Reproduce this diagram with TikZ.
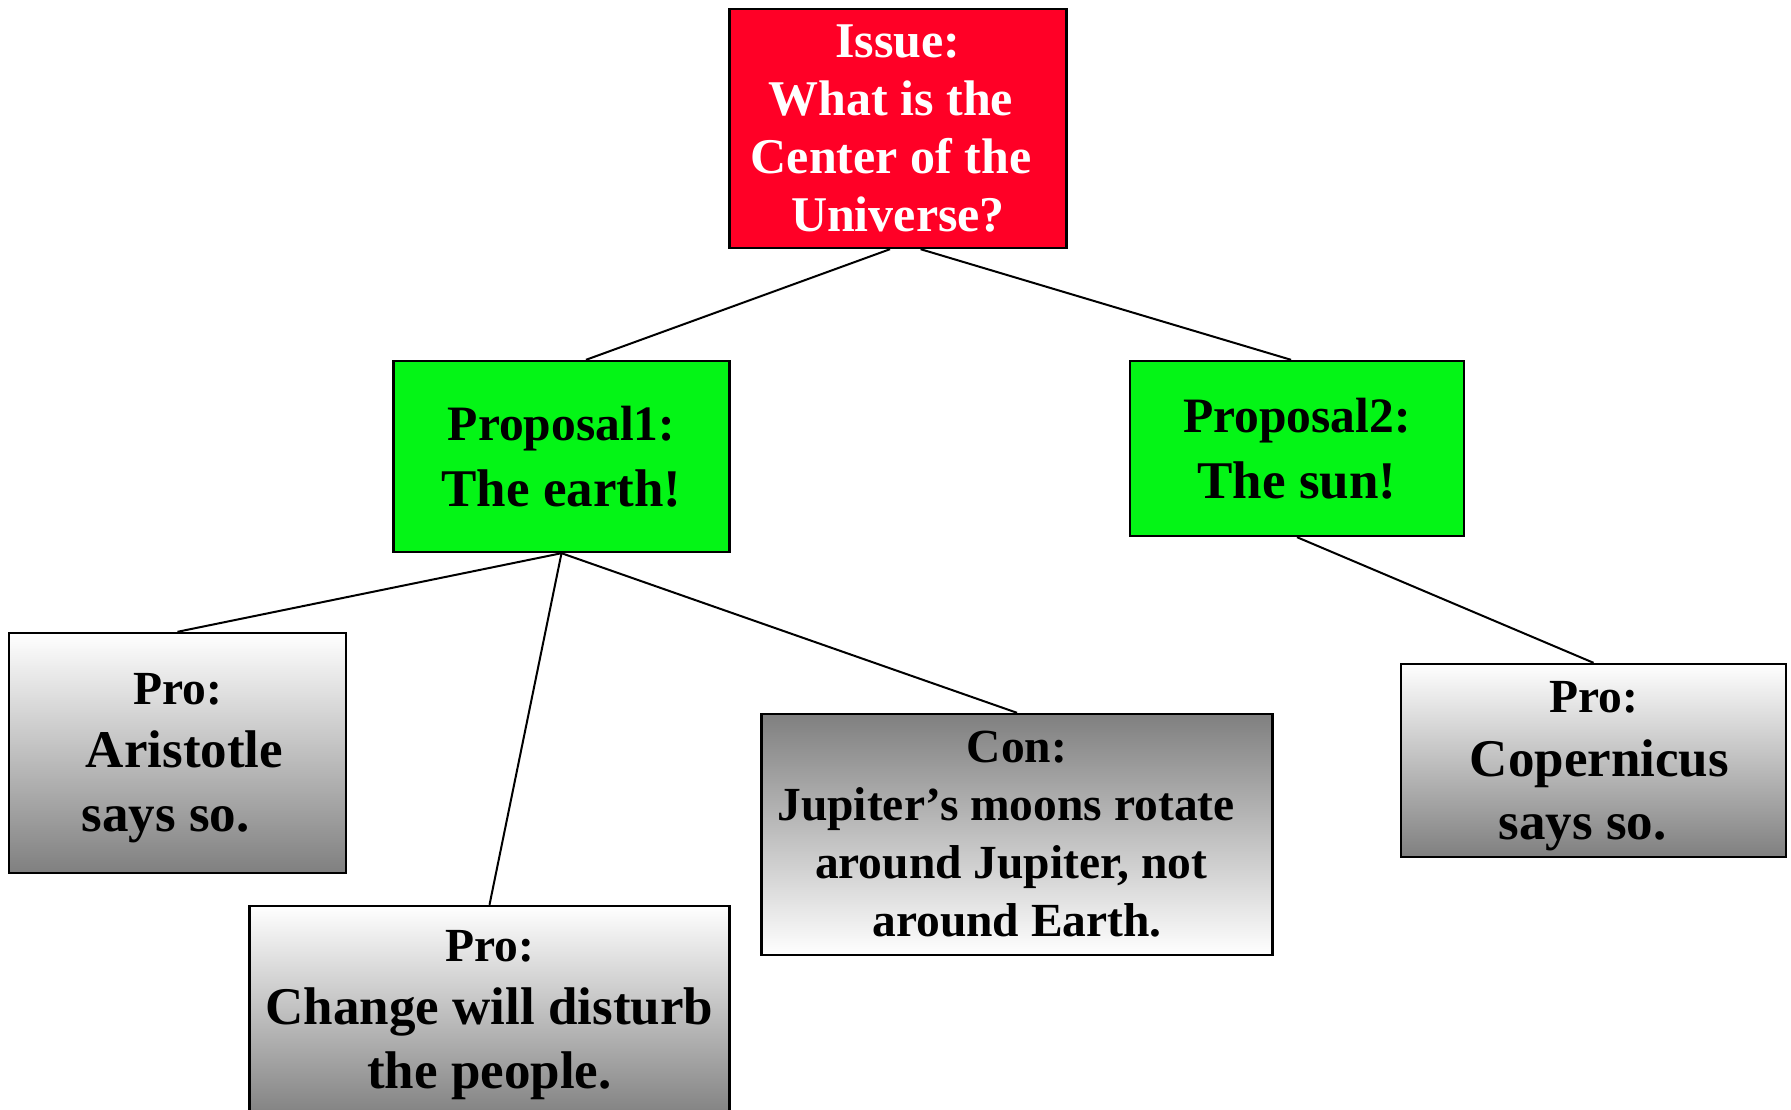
\documentclass[tikz,border=0pt]{standalone}
\usepackage{fontspec}
\setmainfont{Liberation Serif}
\definecolor{issuered}{RGB}{255,0,38}
\definecolor{propgreen}{RGB}{4,245,22}
% smaller first line of an argument box, with a strut that sets its top
\newcommand\smallhead[2]{{\fontsize{47.5}{64}\selectfont\rule{0pt}{#1}#2}}
\begin{document}
\begin{tikzpicture}[x=1pt,y=-1pt,
  box/.style={draw=black, line width=2.4pt, inner sep=0pt, align=center, font=\bfseries},
  issuebox/.style={box, fill=issuered, text=white, font=\bfseries\fontsize{50}{58}\selectfont},
  propbox/.style={box, fill=propgreen, font=\bfseries\fontsize{53}{66}\selectfont},
  probox/.style={box, top color=white, bottom color=black!50, font=\bfseries\fontsize{53}{63.5}\selectfont},
  conbox/.style={box, top color=black!50, bottom color=white, font=\bfseries\fontsize{47.5}{58}\selectfont},
  link/.style={draw=black, line width=2pt}]
\useasboundingbox (0,0) rectangle (1791,1110);
\clip (0,0) rectangle (1791,1110);
\fill[white] (0,0) rectangle (1791,1110);

% issue
\node[issuebox, minimum width=337pt, minimum height=239pt] (issue) at (898,128.5)
  {Issue:\\What is the\kern14pt\\Center of the\kern14pt\\Universe?};

% proposals
\node[propbox, minimum width=336pt, minimum height=191pt] (p1) at (561.5,456.5)
  {{\fontsize{49.5}{66}\selectfont Proposal1:}\\The earth!};
\node[propbox, minimum width=334pt, minimum height=175pt] (p2) at (1297,448.5)
  {{\fontsize{49.5}{66}\selectfont Proposal2:}\\The sun!};

% arguments
\node[probox, minimum width=337pt, minimum height=240pt] (ari) at (177.5,753)
  {\smallhead{41pt}{Pro:}\\\kern14pt Aristotle\\says so.\kern24pt};
\node[probox, minimum width=480pt, minimum height=213pt] (chg) at (489.5,1012.5)
  {\smallhead{36pt}{Pro:}\\Change will disturb\\the people.};
\node[conbox, minimum width=511pt, minimum height=241pt] (con) at (1017,834.5)
  {Con:\\Jupiter’s moons rotate\kern22pt\\around Jupiter, not\kern12pt\\around Earth.};
\node[probox, minimum width=385pt, minimum height=193pt] (cop) at (1593.5,760.5)
  {\smallhead{43pt}{Pro:}\\\kern12pt Copernicus\\says so.\kern22pt};

% connectors
\draw[link] ([xshift=-8pt]issue.south) -- ([xshift=24.5pt]p1.north);
\draw[link] ([xshift=22.6pt]issue.south) -- ([xshift=-6pt]p2.north);
\draw[link] (p1.south) -- (ari.north);
\draw[link] (p1.south) -- (chg.north);
\draw[link] (p1.south) -- (con.north);
\draw[link] (p2.south) -- (cop.north);
\end{tikzpicture}
\end{document}
